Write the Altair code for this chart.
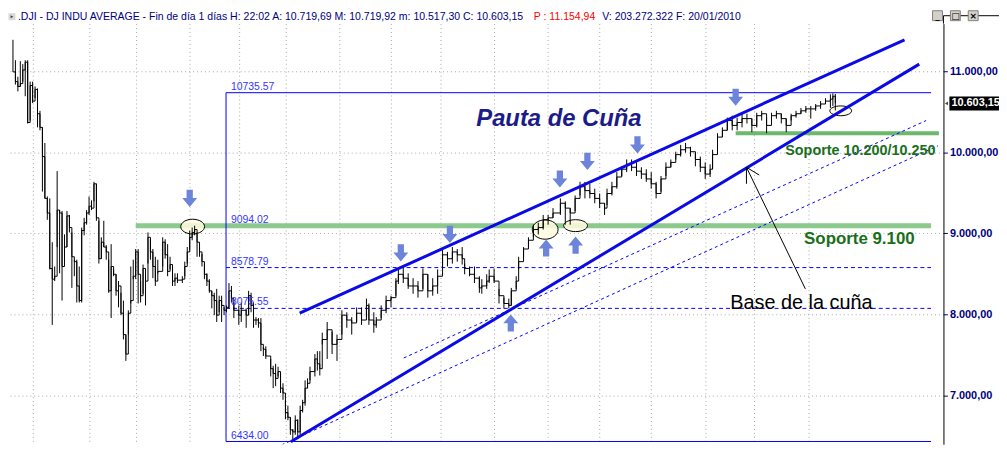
import altair as alt
import pandas as pd

# ---------------- price bars (session index, high, low, close)
day = [0,1,2,3,4,5,6,7,8,9,10,11,12,13,14,15,16,17,18,19,20,21,22,23,24,25,26,27,28,29,
       30,31,32,33,34,35,36,37,38,39,40,41,42,43,44,45,46,47,48,49,50,51,52,53,54,55,56,57,58,59,
       61,62,63,64,65,66,67,69,70,71,72,73,74,75,76,77,78,79,80,81,82,83,84,85,86,87,88,89,90,
       92,93,95,96,97,98,99,100,101,102,103,105,106,107,108,109,110,111,112,113,114,115,116,117,
       118,119,120,121,123,124,125,126,128,130,132,134,136,138,140,142,144,145,147,148,150,152,154,
       156,157,159,161,163,165,167,169,171,173,175,177,179,181,183,184,186,188,190,191,193,194,196,
       198,200,202,203,205,206,208,210,212,214,216,218,220,223,225,227,229,231,233,235,237,239,241,
       242,244,246,248,250,252,254,256,258,260,262,264,266,268,270,272,274,276,278,280,282,284,285,
       287,289,291,293,295,297,299,301,303,305,307,309,311,313,315,317,319,321,323,325,327,329,331,
       333,334,335]

high = [11388,11136,10932,11124,11088,11136,11136,10872,10872,10812,
        10788,10512,10308,10116,9456,9432,8892,8592,9768,9288,
        9276,8988,9276,9228,9012,8676,8676,8592,9072,9192,
        9288,9456,9408,9636,9612,9156,8952,9156,8856,8676,
        8868,8556,8496,8412,8268,8172,7752,8052,8592,8676,
        8808,8808,8412,8616,8472,9012,8928,8808,8712,8676,
        8952,8928,8868,8712,8592,8508,8508,8472,8652,8832,
        9036,9072,9096,9012,8832,8748,8628,8508,8436,8292,
        8268,8316,8232,8232,8088,8112,8388,8352,8148,8112,
        8148,8076,8292,8268,8148,7968,7956,7956,7596,7608,
        7452,7368,7392,7356,7272,7152,6948,6876,6732,6588,
        6756,6708,6876,6948,7188,7212,7356,7512,7548,7548,
        7776,7908,7788,7752,8052,8028,7968,8088,8088,8196,
        8136,8028,7968,8112,8232,8232,8448,8556,8592,8508,
        8448,8412,8568,8496,8448,8556,8808,8772,8832,8808,
        8832,8628,8592,8592,8472,8436,8496,8556,8568,8316,
        8208,8196,8328,8472,8712,8832,8952,9108,9132,9228,
        9228,9312,9432,9396,9312,9468,9636,9636,9612,9552,
        9492,9372,9552,9636,9756,9828,9912,9912,9876,9816,
        9792,9756,9636,9708,9876,9912,10008,10092,10116,10068,
        9996,9948,9876,9852,10032,10236,10308,10428,10452,10428,
        10488,10476,10416,10488,10512,10428,10488,10512,10476,10416,
        10476,10512,10548,10572,10572,10596,10632,10668,10716,10728,
        10720]

low = [10992,10836,10752,10812,10872,10692,10356,10392,10608,10668,
       10308,10272,9516,9432,9168,8556,7872,8412,8832,8508,
       8172,8712,8832,9012,8328,8472,8148,8148,8148,8976,
       9108,9228,9288,9396,9156,8628,8688,8832,8676,8268,
       7956,8472,8232,8088,7992,7692,7428,7752,8136,8436,
       8436,8136,8148,8256,8112,8628,8676,8448,8352,8508,
       8592,8688,8472,8556,8352,8352,8388,8388,8472,8628,
       8796,8916,8976,8712,8712,8592,8436,8352,8268,8076,
       7992,7908,8028,7908,7992,8028,8076,8148,7956,7872,
       7908,7836,7992,8028,7836,7872,7836,7548,7488,7452,
       7236,7092,7116,7236,7032,6948,6708,6696,6516,6456,
       6516,6468,6516,6792,6876,7092,7188,7236,7308,7248,
       7632,7452,7512,7428,7752,7836,7752,7908,7872,7968,
       7872,7776,7836,7956,8016,8088,8232,8376,8388,8316,
       8256,8208,8316,8208,8232,8256,8592,8592,8628,8652,
       8616,8496,8472,8388,8268,8256,8316,8388,8388,8136,
       8076,8076,8112,8316,8556,8712,8832,8952,8988,9048,
       9108,9192,9228,9108,9108,9276,9468,9432,9432,9372,
       9312,9228,9348,9468,9552,9708,9756,9768,9708,9672,
       9636,9552,9432,9516,9708,9816,9912,9948,9996,9948,
       9828,9756,9672,9696,9792,10152,10188,10272,10272,10272,
       10308,10356,10248,10308,10392,10236,10392,10416,10356,10248,
       10392,10428,10476,10488,10416,10512,10536,10596,10548,10572,
       10517]

close = [10992,10872,10812,10848,11016,11112,10368,10824,10632,10776,
         10476,10308,9948,9432,9252,8568,8436,8472,9288,9252,
         8592,8832,9216,9072,8712,8652,8352,8172,9036,9132,
         9252,9336,9312,9612,9192,8688,8892,8832,8772,8292,
         8592,8496,8292,8352,8016,7752,7512,8016,8172,8472,
         8772,8496,8232,8568,8412,8952,8772,8592,8412,8532,
         8892,8736,8532,8616,8412,8448,8424,8436,8592,8772,
         8952,9012,9048,8892,8772,8652,8496,8412,8292,8232,
         8172,7992,8172,8112,8052,8088,8292,8196,8052,7992,
         8052,7992,8232,8112,7932,7932,7896,7632,7572,7488,
         7332,7272,7212,7296,7092,7032,6792,6732,6576,6552,
         6696,6552,6816,6912,7092,7152,7296,7452,7392,7332,
         7692,7812,7632,7692,7992,7932,7896,8016,7932,8112,
         7932,7872,7932,8052,8172,8208,8412,8496,8448,8352,
         8352,8292,8496,8292,8352,8472,8736,8688,8772,8736,
         8688,8568,8496,8448,8328,8352,8412,8472,8412,8232,
         8136,8112,8292,8412,8652,8808,8916,9048,9072,9168,
         9192,9252,9372,9312,9252,9432,9576,9528,9492,9432,
         9372,9312,9492,9576,9696,9792,9852,9816,9768,9732,
         9672,9612,9492,9672,9816,9876,9972,10032,10056,10008,
         9912,9816,9732,9792,9972,10188,10272,10392,10332,10368,
         10416,10416,10332,10452,10476,10332,10452,10476,10416,10332,
         10452,10476,10512,10536,10536,10572,10596,10632,10656,10692,
         10603.15]

month_starts = [8, 31, 50, 72, 92, 111, 133, 154, 174, 196, 218, 239, 260, 282, 302, 324]
price_ticks = [7000, 8000, 9000, 10000, 11000]

# ---------------- retracement box
fib_levels = [10735.57, 9094.02, 8578.79, 8075.55, 6434.00]
fib_text = ["10735.57", "9094.02", "8578.79", "8075.55", "6434.00"]
fib_solid = [10735.57, 6434.00]
fib_dashed = [8578.79, 8075.55]
fib_from = 86.8
fib_to = 374.0
fib_label_day = 88.8

# ---------------- wedge and channel lines (start day, start price, end day, end price)
wedge_d = [116.8, 113.2]
wedge_p = [8016, 6432]
wedge_d2 = [363.2, 369.2]
wedge_p2 = [11388, 11088]

chan_d = [159.2, 102.8]
chan_p = [7464, 6300]
chan_d2 = [372.0, 376.8]
chan_p2 = [10392, 10080]

# ---------------- supports
sup_low_p = 9094.02
sup_low_from, sup_low_to = 50.0, 374.0
sup_high_p = 10236
sup_high_from, sup_high_to = 294.4, 377.2

# ---------------- markers
down_day = [72, 158, 178, 222.8, 234, 254.4, 294.4]
down_price = [9432, 8760, 8988, 9672, 9888, 10092, 10680]
up_day = [202.8, 217.2, 229.2]
up_price = [7896, 8820, 8856]

ring_day = [73.2, 216.8, 229.2, 337.2]
ring_price = [9084, 9048, 9096, 10512]

pointer_d = [322.8, 298.8, 298.8]
pointer_p = [8316, 9816, 9816]
pointer_d2 = [298.8, 304.0, 298.8]
pointer_p2 = [9816, 9720, 9612]

last_close = 10603.15

# ---------------- styles
FONT = "Liberation Sans"
ring_w = [24, 26, 24, 22]
ring_ratio = [0.62, 0.75, 0.5, 0.45]

xs = alt.Scale(domain=[-2.02, 379.05], nice=False, zero=False)
ys = alt.Scale(domain=[6400, 11587.2], nice=False, zero=False)
x_axis = alt.Axis(values=month_starts, grid=True, labels=False, ticks=False, domain=False,
                  title=None, gridColor="#a8a8a8", gridDash=[1, 3], gridWidth=1)
y_axis = alt.Axis(orient="right", values=price_ticks, title=None, grid=True,
                  gridColor="#a8a8a8", gridDash=[1, 3], gridWidth=1,
                  labelExpr="format(datum.value / 1000, 'd') + '.000,00'",
                  labelFont=FONT, labelFontSize=11, labelColor="#000080", labelFontWeight="bold",
                  tickColor="#000080", tickSize=4, labelPadding=2,
                  domainColor="black", domainWidth=1)


def X(f="d"):
    return alt.X(f"{f}:Q", scale=xs, axis=x_axis)


def Y(f="p"):
    return alt.Y(f"{f}:Q", scale=ys, axis=y_axis)


one = pd.DataFrame({"k": [0]})

bars_df = pd.DataFrame({"d": day, "p": low, "p2": high, "c": close})

# supports
sup1 = alt.Chart(pd.DataFrame({"d": [sup_low_from], "d2": [sup_low_to], "p": [sup_low_p]})).mark_rule(
    color="#8cc98c", strokeWidth=5).encode(x=X(), x2="d2:Q", y=Y())
sup2 = alt.Chart(pd.DataFrame({"d": [sup_high_from], "d2": [sup_high_to], "p": [sup_high_p]})).mark_rule(
    color="#6cb86c", strokeWidth=4).encode(x=X(), x2="d2:Q", y=Y())

# retracement box
fib_h = alt.Chart(pd.DataFrame({"p": fib_solid, "d": fib_from, "d2": fib_to})).mark_rule(
    color="#0000ff", strokeWidth=1).encode(x=X(), x2="d2:Q", y=Y())
fib_dash = alt.Chart(pd.DataFrame({"p": fib_dashed, "d": fib_from, "d2": fib_to})).mark_rule(
    color="#0000ff", strokeWidth=1, strokeDash=[4, 3]).encode(x=X(), x2="d2:Q", y=Y())
fib_v = alt.Chart(pd.DataFrame({"d": [fib_from], "p": [fib_solid[1]], "p2": [fib_solid[0]]})).mark_rule(
    color="#0000ff", strokeWidth=1).encode(x=X(), y=Y(), y2="p2:Q")
fib_lab = alt.Chart(pd.DataFrame({"d": fib_label_day, "p": fib_levels, "t": fib_text})).mark_text(
    align="left", baseline="bottom", dy=-1, font=FONT, fontSize=10.5, color="#3535ff").encode(
    x=X(), y=Y(), text="t:N")

# rings
ring_shapes = [f"M-1,0A1,{r} 0 1,1 1,0A1,{r} 0 1,1 -1,0Z" for r in ring_ratio]
ring_df = pd.DataFrame({"d": ring_day, "p": ring_price, "shp": ring_shapes, "sz": [w * w for w in ring_w]})
rings = alt.Chart(ring_df).mark_point(filled=False, fill="#fffbe0", fillOpacity=0.85, stroke="black",
                                      strokeWidth=1, opacity=1).encode(
    x=X(), y=Y(), shape=alt.Shape("shp:N", scale=None, legend=None), size=alt.Size("sz:Q", scale=None, legend=None))

# price bars
bars = alt.Chart(bars_df).mark_rule(color="black", strokeWidth=1).encode(x=X(), y=Y(), y2="p2:Q")
step = alt.Chart(bars_df).mark_line(color="black", strokeWidth=1, interpolate="step-after").encode(
    x=X(), y=Y("c"))

# wedge + channels
wedge = alt.Chart(pd.DataFrame({"d": wedge_d, "p": wedge_p, "d2": wedge_d2, "p2": wedge_p2})).mark_rule(
    color="#0a0ae6", strokeWidth=3).encode(x=X(), y=Y(), x2="d2:Q", y2="p2:Q")
chan = alt.Chart(pd.DataFrame({"d": chan_d, "p": chan_p, "d2": chan_d2, "p2": chan_p2})).mark_rule(
    color="#0000ff", strokeWidth=1, strokeDash=[3, 3], clip=True).encode(x=X(), y=Y(), x2="d2:Q", y2="p2:Q")

# arrows
DOWN = "M-0.42,-1.15L0.42,-1.15L0.42,-0.05L1,-0.05L0,1.15L-1,-0.05L-0.42,-0.05Z"
UP = "M-0.42,1.15L0.42,1.15L0.42,0.05L1,0.05L0,-1.15L-1,0.05L-0.42,0.05Z"
downs = alt.Chart(pd.DataFrame({"d": down_day, "p": down_price})).mark_point(
    shape=DOWN, filled=True, color="#6c84d9", size=225, opacity=1, strokeWidth=0).encode(x=X(), y=Y())
ups = alt.Chart(pd.DataFrame({"d": up_day, "p": up_price})).mark_point(
    shape=UP, filled=True, color="#6c84d9", size=225, opacity=1, strokeWidth=0).encode(x=X(), y=Y())

pointer = alt.Chart(pd.DataFrame({"d": pointer_d, "p": pointer_p, "d2": pointer_d2, "p2": pointer_p2})).mark_rule(
    color="black", strokeWidth=1).encode(x=X(), y=Y(), x2="d2:Q", y2="p2:Q")


def label(text, d, p, **kw):
    return alt.Chart(pd.DataFrame({"d": [d], "p": [p]})).mark_text(text=text, font=FONT, **kw).encode(x=X(), y=Y())


t_title = label("Pauta de Cuña", 222.4, 10416, fontSize=24, fontWeight="bold", fontStyle="italic", color="#1c1c88")
t_sup2 = label("Soporte 10.200/10.250", 345.2, 10020, fontSize=14.5, fontWeight="bold", color="#1a6e1a")
t_sup1 = label("Soporte 9.100", 344.8, 8928, fontSize=17, fontWeight="bold", color="#1a6e1a")
t_base = label("Base de la cuña", 321.2, 8136, fontSize=20, color="black")

# last price tag
tag_df = pd.DataFrame({"p": [last_close]})
tag_bg = alt.Chart(tag_df).mark_rule(color="black", strokeWidth=14, strokeCap="butt").encode(
    x=alt.value(949), x2=alt.value(999), y=Y())
tag_txt = alt.Chart(tag_df).mark_text(text="10.603,15", align="left", baseline="middle", font=FONT,
                                      fontSize=11, fontWeight="bold", color="white").encode(
    x=alt.value(951), y=Y())
tag_arrow = alt.Chart(tag_df).mark_point(shape="triangle-left", filled=True, color="black", size=14).encode(
    x=alt.value(946), y=Y())

# panel frame at the top of the price scale
frame_top = alt.Chart(one).mark_rule(color="black", strokeWidth=1).encode(
    x=alt.value(943), x2=alt.value(999), y=alt.value(-8))
frame_side = alt.Chart(one).mark_rule(color="black", strokeWidth=1).encode(
    x=alt.value(943), y=alt.value(-8), y2=alt.value(0))


# header line
def head(text, x, color):
    return alt.Chart(one).mark_text(text=text, align="left", baseline="top", font=FONT, fontSize=10.6,
                                    color=color).encode(x=alt.value(x), y=alt.value(-12))


h1 = head(".DJI - DJ INDU AVERAGE - Fin de día 1 días  H: 22:02  A: 10.719,69  M: 10.719,92  m: 10.517,30  C: 10.603,15",
          10, "#000080")
h2 = head("P : 11.154,94", 530, "#ff0000")
h3 = head("V: 203.272.322  F: 20/01/2010", 599, "#000080")
icon = alt.Chart(one).mark_point(shape="square", filled=True, color="#c8c8c8", size=49).encode(
    x=alt.value(4), y=alt.value(-7))
icon_t = alt.Chart(one).mark_point(shape="triangle-right", filled=True, color="black", size=10).encode(
    x=alt.value(4), y=alt.value(-7))

btns = []
for bx, glyph in [(937, "_"), (955, "□"), (973, "×")]:
    btns.append(alt.Chart(one).mark_point(shape="square", filled=True, fill="#d4d0c8", stroke="#808080",
                                          strokeWidth=1, size=100, opacity=1).encode(
        x=alt.value(bx), y=alt.value(-8)))
    btns.append(alt.Chart(one).mark_text(text=glyph, fontSize=9, fontWeight="bold", color="black",
                                         font="DejaVu Sans", baseline="middle").encode(
        x=alt.value(bx), y=alt.value(-8)))

chart = alt.layer(
    sup1, sup2, fib_h, fib_dash, fib_v, rings, bars, step, chan, wedge, pointer, downs, ups,
    fib_lab, t_title, t_sup2, t_sup1, t_base, tag_bg, tag_txt, tag_arrow, frame_top, frame_side,
    icon, icon_t, h1, h2, h3, *btns
).properties(
    width=943, height=424,
    padding={"left": 0, "top": 14, "right": 56, "bottom": 0},
    autosize=alt.AutoSizeParams(type="none"),
    background="white",
).configure_view(stroke=None)

chart.save("out.html", embed_options={"renderer": "svg", "actions": False})
